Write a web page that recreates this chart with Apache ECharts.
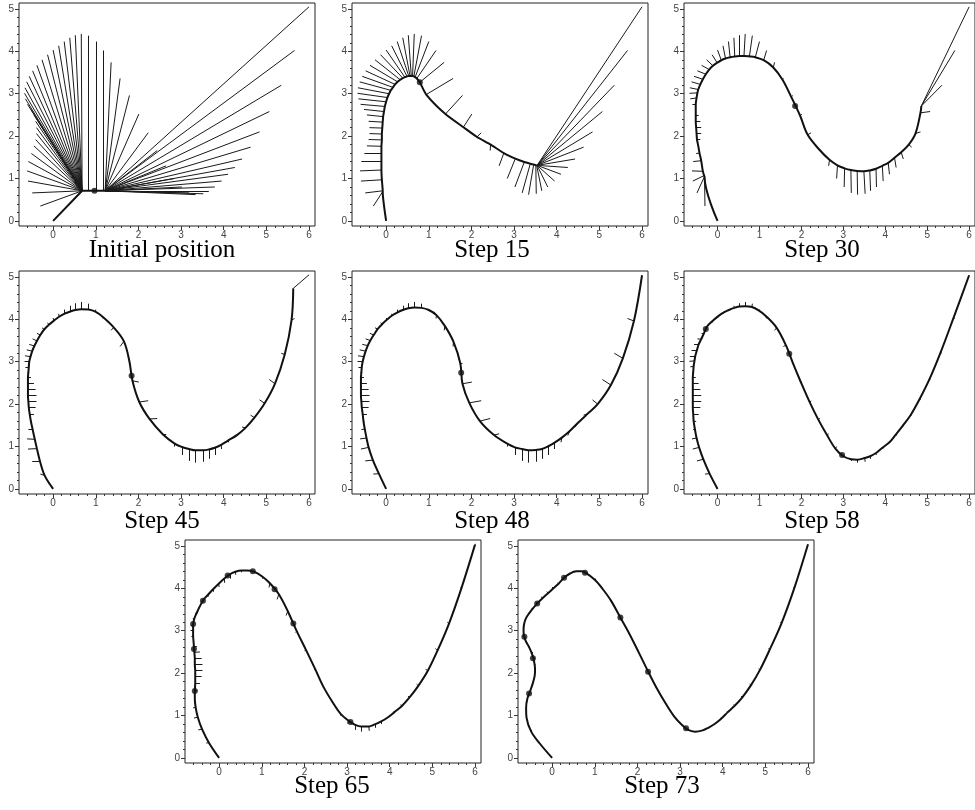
<!DOCTYPE html>
<html>
<head>
<meta charset="utf-8">
<title>Fitting steps</title>
<script src="https://cdn.jsdelivr.net/npm/echarts@6/dist/echarts.min.js"></script>
<style>
  html, body { margin: 0; padding: 0; background: #fff; }
  #main { width: 975px; height: 810px; }
</style>
</head>
<body>
<div id="main"></div>
<script type="text/javascript">
// target points = tips of the needles, the same in every panel
var tips = [
  [0,0],[-0.30,0.35],[-0.49,0.66],[-0.59,0.94],[-0.61,1.18],[-0.58,1.40],
  [-0.51,1.59],[-0.45,1.77],[-0.41,1.92],[-0.39,2.06],[-0.39,2.20],[-0.41,2.35],
  [-0.45,2.50],[-0.52,2.63],[-0.60,2.75],[-0.65,2.88],[-0.67,3.01],[-0.66,3.14],
  [-0.62,3.28],[-0.56,3.41],[-0.48,3.54],[-0.38,3.67],[-0.26,3.80],[-0.13,3.92],
  [0.00,4.03],[0.13,4.13],[0.26,4.23],[0.39,4.32],[0.52,4.38],[0.66,4.41],
  [0.83,4.37],[1.00,4.23],[1.17,4.02],[1.36,3.74],[1.57,3.36],[1.79,2.96],
  [2.01,2.52],[2.23,2.08],[2.44,1.66],[2.65,1.30],[2.84,1.00],[3.02,0.80],
  [3.19,0.66],[3.34,0.62],[3.52,0.64],[3.65,0.71],[3.79,0.80],[3.95,0.94],
  [4.10,1.10],[4.26,1.26],[4.43,1.46],[4.63,1.74],[4.84,2.10],[5.07,2.58],
  [5.35,3.20],[5.66,4.02],[6.00,5.05]
];

// curve point matched to each tip, one array per step (the curve runs through them)
var feetInit = [
  [0,0],[0.68,0.71],[0.68,0.71],[0.68,0.71],[0.68,0.71],[0.68,0.71],
  [0.68,0.71],[0.68,0.71],[0.68,0.71],[0.68,0.71],[0.68,0.71],[0.68,0.71],
  [0.68,0.71],[0.68,0.71],[0.68,0.71],[0.68,0.71],[0.68,0.71],[0.68,0.71],
  [0.68,0.71],[0.68,0.71],[0.68,0.71],[0.68,0.71],[0.68,0.71],[0.68,0.71],
  [0.68,0.71],[0.68,0.71],[0.68,0.71],[0.68,0.71],[0.68,0.71],[0.68,0.71],
  [0.83,0.71],[1.00,0.71],[1.17,0.71],[1.22,0.71],[1.22,0.71],[1.22,0.71],
  [1.22,0.71],[1.22,0.71],[1.22,0.71],[1.22,0.71],[1.22,0.71],[1.22,0.71],
  [1.22,0.71],[1.22,0.71],[1.22,0.71],[1.22,0.71],[1.22,0.71],[1.22,0.71],
  [1.22,0.71],[1.22,0.71],[1.22,0.71],[1.22,0.71],[1.22,0.71],[1.22,0.71],
  [1.22,0.71],[1.22,0.71],[1.22,0.71]
];
var feet15 = [
  [0,0],[-0.08,0.69],[-0.08,0.71],[-0.10,0.97],[-0.11,1.20],[-0.11,1.40],
  [-0.11,1.59],[-0.11,1.76],[-0.10,1.91],[-0.10,2.05],[-0.09,2.19],[-0.08,2.33],
  [-0.07,2.46],[-0.05,2.58],[-0.03,2.70],[0.00,2.81],[0.03,2.91],[0.07,3.00],
  [0.11,3.08],[0.16,3.15],[0.21,3.22],[0.27,3.28],[0.33,3.33],[0.39,3.37],
  [0.44,3.39],[0.49,3.41],[0.53,3.42],[0.56,3.42],[0.59,3.42],[0.62,3.42],
  [0.65,3.41],[0.68,3.39],[0.72,3.36],[0.79,3.27],[0.94,2.98],[1.39,2.52],
  [1.81,2.21],[2.13,1.98],[2.45,1.80],[2.76,1.60],[3.03,1.47],[3.24,1.39],
  [3.38,1.35],[3.46,1.33],[3.51,1.32],[3.53,1.31],[3.54,1.31],[3.54,1.31],
  [3.54,1.31],[3.54,1.31],[3.54,1.31],[3.54,1.31],[3.54,1.31],[3.54,1.31],
  [3.54,1.31],[3.54,1.31],[3.54,1.31]
];
var feet30 = [
  [0,0],[-0.31,1.04],[-0.31,1.05],[-0.32,1.07],[-0.35,1.17],[-0.39,1.42],
  [-0.43,1.60],[-0.46,1.77],[-0.49,1.92],[-0.50,2.06],[-0.51,2.20],[-0.52,2.35],
  [-0.52,2.50],[-0.52,2.62],[-0.52,2.75],[-0.50,2.90],[-0.48,3.02],[-0.46,3.10],
  [-0.41,3.22],[-0.35,3.34],[-0.28,3.46],[-0.20,3.57],[-0.11,3.66],[-0.01,3.73],
  [0.09,3.79],[0.19,3.83],[0.30,3.86],[0.41,3.88],[0.52,3.89],[0.63,3.89],
  [0.76,3.88],[0.90,3.86],[1.10,3.79],[1.33,3.62],[1.55,3.33],[1.76,2.92],
  [1.97,2.48],[2.15,2.03],[2.42,1.69],[2.67,1.44],[2.86,1.31],[3.03,1.24],
  [3.18,1.20],[3.33,1.18],[3.49,1.17],[3.63,1.19],[3.78,1.23],[3.93,1.30],
  [4.07,1.37],[4.22,1.49],[4.38,1.62],[4.56,1.80],[4.72,2.06],[4.84,2.55],
  [4.86,2.71],[4.86,2.71],[4.86,2.71]
];
var feet45 = [
  [0,0],[-0.20,0.32],[-0.31,0.66],[-0.38,0.95],[-0.43,1.17],[-0.48,1.40],
  [-0.52,1.59],[-0.55,1.77],[-0.57,1.92],[-0.58,2.06],[-0.59,2.20],[-0.59,2.35],
  [-0.59,2.50],[-0.59,2.63],[-0.58,2.75],[-0.57,2.88],[-0.56,3.00],[-0.53,3.12],
  [-0.49,3.25],[-0.44,3.37],[-0.38,3.49],[-0.30,3.63],[-0.21,3.76],[-0.10,3.87],
  [0.02,3.97],[0.14,4.06],[0.26,4.13],[0.39,4.18],[0.52,4.22],[0.66,4.24],
  [0.83,4.23],[0.99,4.18],[1.16,4.06],[1.42,3.81],[1.66,3.48],[1.79,3.00],
  [1.86,2.55],[2.02,2.05],[2.26,1.65],[2.57,1.29],[2.85,1.07],[3.02,0.99],
  [3.19,0.94],[3.34,0.91],[3.52,0.91],[3.65,0.93],[3.79,0.97],[3.94,1.04],
  [4.10,1.14],[4.31,1.27],[4.51,1.44],[4.72,1.68],[4.96,2.02],[5.20,2.48],
  [5.43,3.17],[5.59,3.98],[5.63,4.73]
];
var feet48 = [
  [0,0],[-0.17,0.36],[-0.31,0.68],[-0.41,0.98],[-0.46,1.20],[-0.50,1.41],
  [-0.53,1.59],[-0.55,1.77],[-0.57,1.92],[-0.58,2.06],[-0.59,2.20],[-0.59,2.35],
  [-0.59,2.50],[-0.59,2.63],[-0.58,2.75],[-0.57,2.88],[-0.55,3.00],[-0.52,3.12],
  [-0.48,3.25],[-0.43,3.38],[-0.37,3.50],[-0.29,3.63],[-0.20,3.77],[-0.09,3.89],
  [0.03,4.00],[0.14,4.09],[0.26,4.16],[0.39,4.22],[0.52,4.26],[0.66,4.28],
  [0.83,4.27],[1.00,4.22],[1.18,4.10],[1.38,3.84],[1.58,3.47],[1.74,2.96],
  [1.79,2.48],[1.95,2.03],[2.20,1.60],[2.53,1.27],[2.85,1.06],[3.02,0.98],
  [3.19,0.94],[3.34,0.91],[3.52,0.92],[3.65,0.94],[3.79,1.00],[3.95,1.09],
  [4.12,1.21],[4.30,1.36],[4.50,1.56],[4.72,1.77],[4.96,2.00],[5.27,2.45],
  [5.55,3.08],[5.81,3.96],[6.00,5.04]
];
var feet58 = [
  [0,0],[-0.19,0.36],[-0.34,0.70],[-0.44,0.98],[-0.50,1.20],[-0.54,1.41],
  [-0.57,1.60],[-0.58,1.77],[-0.59,1.92],[-0.59,2.06],[-0.59,2.20],[-0.59,2.35],
  [-0.59,2.50],[-0.59,2.63],[-0.58,2.76],[-0.57,2.89],[-0.55,3.02],[-0.53,3.14],
  [-0.49,3.28],[-0.45,3.41],[-0.39,3.53],[-0.33,3.66],[-0.25,3.83],[-0.12,3.96],
  [0.01,4.07],[0.14,4.16],[0.27,4.22],[0.40,4.27],[0.52,4.30],[0.66,4.31],
  [0.82,4.29],[0.98,4.21],[1.15,4.08],[1.41,3.80],[1.63,3.39],[1.80,2.96],
  [1.99,2.51],[2.20,2.04],[2.40,1.64],[2.61,1.27],[2.81,0.95],[3.00,0.77],
  [3.19,0.70],[3.34,0.69],[3.51,0.73],[3.64,0.77],[3.77,0.84],[3.93,0.97],
  [4.10,1.10],[4.25,1.28],[4.41,1.48],[4.61,1.75],[4.82,2.12],[5.06,2.60],
  [5.32,3.22],[5.63,4.04],[6.00,5.04]
];
var feet65 = [
  [0,0],[-0.24,0.36],[-0.40,0.68],[-0.50,0.96],[-0.55,1.19],[-0.57,1.40],
  [-0.57,1.58],[-0.56,1.77],[-0.56,1.92],[-0.56,2.06],[-0.57,2.20],[-0.57,2.34],
  [-0.58,2.49],[-0.59,2.62],[-0.60,2.75],[-0.61,2.88],[-0.61,3.01],[-0.61,3.14],
  [-0.58,3.29],[-0.52,3.43],[-0.45,3.58],[-0.36,3.74],[-0.25,3.86],[-0.13,3.99],
  [-0.01,4.11],[0.12,4.23],[0.25,4.33],[0.38,4.39],[0.52,4.42],[0.66,4.42],
  [0.82,4.39],[1.01,4.28],[1.19,4.12],[1.40,3.86],[1.61,3.46],[1.82,2.99],
  [2.03,2.56],[2.25,2.10],[2.45,1.67],[2.65,1.33],[2.84,1.05],[3.03,0.88],
  [3.19,0.78],[3.34,0.74],[3.51,0.74],[3.65,0.79],[3.80,0.86],[3.96,0.96],
  [4.11,1.08],[4.28,1.22],[4.46,1.42],[4.67,1.70],[4.89,2.05],[5.12,2.53],
  [5.39,3.17],[5.68,4.00],[6.00,5.03]
];
var feet73 = [
  [0,0],[-0.29,0.34],[-0.49,0.62],[-0.60,0.95],[-0.61,1.18],[-0.58,1.40],
  [-0.51,1.59],[-0.45,1.77],[-0.41,1.93],[-0.40,2.06],[-0.41,2.20],[-0.44,2.35],
  [-0.49,2.50],[-0.55,2.63],[-0.62,2.76],[-0.66,2.88],[-0.67,3.01],[-0.66,3.14],
  [-0.62,3.28],[-0.54,3.41],[-0.44,3.54],[-0.34,3.65],[-0.22,3.77],[-0.09,3.89],
  [0.03,4.00],[0.15,4.11],[0.28,4.25],[0.42,4.35],[0.56,4.40],[0.68,4.40],
  [0.78,4.37],[1.00,4.20],[1.18,3.99],[1.38,3.71],[1.59,3.33],[1.81,2.93],
  [2.03,2.49],[2.25,2.04],[2.46,1.63],[2.67,1.27],[2.86,0.98],[3.04,0.78],
  [3.19,0.66],[3.35,0.62],[3.53,0.65],[3.66,0.71],[3.81,0.80],[3.97,0.93],
  [4.12,1.08],[4.28,1.23],[4.46,1.43],[4.66,1.71],[4.87,2.07],[5.10,2.55],
  [5.38,3.18],[5.68,4.01],[6.00,5.04]
];

// knots (dots) per step
var knotsInit = [[0.97,0.71]];
var knots15 = [[0.79,3.27]];
var knots30 = [[1.85,2.71]];
var knots45 = [[1.84,2.67]];
var knots48 = [[1.76,2.74]];
var knots58 = [[-0.28,3.77],[1.71,3.19],[2.97,0.80]];
var knots65 = [[-0.61,3.16],[-0.59,2.57],[-0.57,1.58],[-0.38,3.71],[0.20,4.30],
               [0.79,4.40],[1.30,3.98],[1.74,3.17],[3.08,0.85]];
var knots73 = [[-0.65,2.86],[-0.45,2.35],[-0.54,1.52],[-0.35,3.64],[0.28,4.25],
               [0.77,4.37],[1.60,3.31],[2.25,2.03],[3.14,0.70]];

var stepNames = ['Initial position', 'Step 15', 'Step 30', 'Step 45',
                 'Step 48', 'Step 58', 'Step 65', 'Step 73'];
var xTicks = [0, 1, 2, 3, 4, 5, 6];
var yTicks = [0, 1, 2, 3, 4, 5];

var allFeet = [feetInit, feet15, feet30, feet45, feet48, feet58, feet65, feet73];
var allKnots = [knotsInit, knots15, knots30, knots45, knots48, knots58, knots65, knots73];

// layout of the panels: plot box left/top in px, title centre x and middle y
var boxes = [[19,3],[352,3],[684,3],[19,271],[352,271],[684,271],[185,540],[518,540]];
var titlePos = [[162,250],[492,250],[822,250],[162,521],[492,521],[822,521],[332,786],[662,786]];
var boxW = 296, boxH = 223;
var xMin = -0.8, xMax = 6.14, yMin = -0.12, yMax = 5.14;

// minor ticks every 0.2
function minorTicks(a, b) {
    var out = [];
    for (var k = Math.round(a * 5); k <= Math.round(b * 5); k++) {
        if (k % 5 !== 0) out.push(k / 5);
    }
    return out;
}
var xMinor = minorTicks(-0.6, 6.0);
var yMinor = minorTicks(0, 5);

var grids = [], xAxes = [], yAxes = [], series = [], texts = [];
var labelStyle = { fontSize: 10, color: '#444', fontFamily: 'Liberation Sans' };

function makeAxis(p, pos, lo, hi, ticks, len, labels, margin) {
    return {
        gridIndex: p, type: 'value', position: pos, min: lo, max: hi,
        axisLine: { show: false, onZero: false }, splitLine: { show: false },
        axisTick: { show: true, customValues: ticks, length: len, lineStyle: { color: '#333' } },
        axisLabel: labels
            ? Object.assign({ customValues: ticks, margin: margin }, labelStyle)
            : { show: false }
    };
}

for (var p = 0; p < 8; p++) {
    grids.push({
        left: boxes[p][0], top: boxes[p][1], width: boxW, height: boxH,
        show: true, borderColor: '#222', borderWidth: 1, containLabel: false
    });
    // major axis with labels, then a second one for the minor ticks
    xAxes.push(makeAxis(p, 'bottom', xMin, xMax, xTicks, 4, true, 4));
    xAxes.push(makeAxis(p, 'bottom', xMin, xMax, xMinor, 2, false));
    yAxes.push(makeAxis(p, 'left', yMin, yMax, yTicks, 4, true, 5));
    yAxes.push(makeAxis(p, 'left', yMin, yMax, yMinor, 2, false));

    var feet = allFeet[p];
    var needles = tips.map(function (t, i) {
        return { coords: [t, feet[i]] };
    });
    series.push({
        type: 'lines', coordinateSystem: 'cartesian2d',
        xAxisIndex: 2 * p, yAxisIndex: 2 * p,
        data: needles, silent: true, z: 2,
        lineStyle: { color: '#1a1a1a', width: 1, opacity: 1 }
    });
    series.push({
        type: 'line', xAxisIndex: 2 * p, yAxisIndex: 2 * p,
        data: feet, showSymbol: false, silent: true, z: 3,
        smooth: p === 0 ? false : (p === 1 ? 0.2 : 0.35),
        lineStyle: { color: '#111', width: 2 }
    });
    series.push({
        type: 'scatter', xAxisIndex: 2 * p, yAxisIndex: 2 * p,
        data: allKnots[p], symbolSize: 6, silent: true, z: 4,
        itemStyle: { color: '#111' }
    });

    texts.push({
        type: 'text', x: titlePos[p][0], y: titlePos[p][1], silent: true,
        style: {
            text: stepNames[p], fill: '#000',
            font: '25px "Liberation Serif", "Times New Roman", serif',
            align: 'center', verticalAlign: 'middle'
        }
    });
}

var chart = echarts.init(document.getElementById('main'));
chart.setOption({
    animation: false,
    backgroundColor: '#fff',
    grid: grids,
    xAxis: xAxes,
    yAxis: yAxes,
    series: series,
    graphic: texts
});
</script>
</body>
</html>
